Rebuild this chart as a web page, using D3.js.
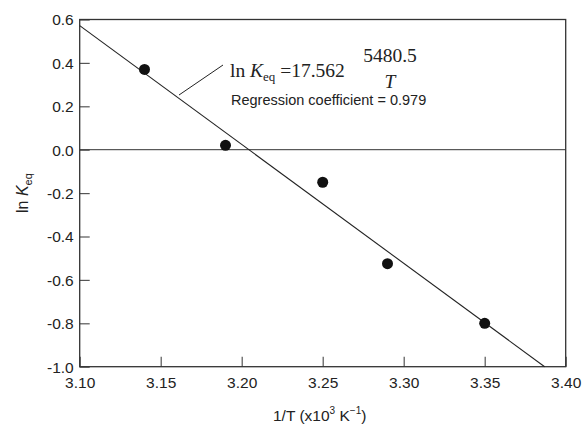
<!DOCTYPE html>
<html><head><meta charset="utf-8">
<script src="https://cdn.jsdelivr.net/npm/d3@7"></script>
<style>body{margin:0;background:#fff}svg{display:block}</style>
</head><body>
<svg id="c" width="583" height="433"></svg>
<script>
const xValues = [3.14, 3.19, 3.25, 3.29, 3.35];
const yValues = [0.37, 0.02, -0.15, -0.525, -0.80];
const fitX = [3.10, 3.387];
const fitY = [0.572, -1.0];
const xTicks = [3.10, 3.15, 3.20, 3.25, 3.30, 3.35, 3.40];
const yTicks = [-1.0, -0.8, -0.6, -0.4, -0.2, 0.0, 0.2, 0.4, 0.6];

const svg = d3.select("#c");
const L = 79.7, R = 565.7, T = 19.5, B = 366.7;
const x = d3.scaleLinear().domain([3.10, 3.40]).range([L, R]);
const y = d3.scaleLinear().domain([-1.0, 0.6]).range([B, T]);
const sans = "'Liberation Sans', Arial, sans-serif";
const serif = "'Liberation Serif', 'Times New Roman', serif";
const fmt1 = d => d3.format(".1f")(d).replace("\u2212", "-");

// axes with inward ticks
const yAxis = d3.axisLeft(y).tickValues(yTicks).tickSize(-10).tickPadding(16).tickFormat(fmt1);
const gy = svg.append("g").attr("transform", `translate(${L},0)`).call(yAxis);
const xAxis = d3.axisBottom(x).tickValues(xTicks).tickSize(-10).tickPadding(16).tickFormat(d3.format(".2f"));
const gx = svg.append("g").attr("transform", `translate(0,${B})`).call(xAxis);
[gx, gy].forEach(g => {
  g.select(".domain").remove();
  g.selectAll(".tick line").attr("stroke", "#555").attr("stroke-width", 1.2);
  g.selectAll(".tick text").attr("font-family", sans).attr("font-size", 15.5).attr("fill", "#222");
});
gy.selectAll(".tick text").attr("x", -6).attr("dy", "0.35em");
gx.selectAll(".tick text").attr("y", 10).attr("dy", "0.75em");

// frame
svg.append("rect").attr("x", L).attr("y", T).attr("width", R - L).attr("height", B - T)
  .attr("fill", "none").attr("stroke", "#333").attr("stroke-width", 1.3);

// zero line
svg.append("line").attr("x1", x(3.10)).attr("x2", x(3.40)).attr("y1", y(0)).attr("y2", y(0))
  .attr("stroke", "#333").attr("stroke-width", 1);

// fit line
const fitData = fitX.map((v, i) => [v, fitY[i]]);
svg.append("path").datum(fitData)
  .attr("d", d3.line().x(d => x(d[0])).y(d => y(d[1])))
  .attr("stroke", "#222").attr("stroke-width", 1.1).attr("fill", "none");

// points
svg.selectAll("circle.pt").data(xValues.map((v, i) => [v, yValues[i]])).enter()
  .append("circle").attr("class", "pt")
  .attr("cx", d => x(d[0])).attr("cy", d => y(d[1])).attr("r", 5.5).attr("fill", "#111");

// annotation leader
svg.append("line").attr("x1", 179).attr("y1", 95).attr("x2", 223).attr("y2", 65)
  .attr("stroke", "#222").attr("stroke-width", 1);

// equation
const eq = svg.append("text").attr("x", 230).attr("y", 77).attr("font-family", serif).attr("font-size", 19.5).attr("fill", "#222");
eq.append("tspan").text("ln ");
eq.append("tspan").attr("font-style", "italic").text("K");
eq.append("tspan").attr("font-size", 13).attr("dy", 4).text("eq");
eq.append("tspan").attr("dy", -4).text(" =17.562");
svg.append("text").attr("x", 390).attr("y", 62).attr("text-anchor", "middle")
  .attr("font-family", serif).attr("font-size", 19.5).attr("fill", "#222").text("5480.5");
svg.append("text").attr("x", 390).attr("y", 88).attr("text-anchor", "middle")
  .attr("font-family", serif).attr("font-size", 19.5).attr("font-style", "italic").attr("fill", "#222").text("T");
svg.append("text").attr("x", 231).attr("y", 105).attr("font-family", sans).attr("font-size", 14.5).attr("fill", "#222")
  .text("Regression coefficient = 0.979");

// x title
const xt = svg.append("text").attr("x", (L + R) / 2 - 3).attr("y", 421).attr("text-anchor", "middle")
  .attr("font-family", sans).attr("font-size", 15.5).attr("fill", "#222");
xt.append("tspan").text("1/T (x10");
xt.append("tspan").attr("font-size", 10).attr("dy", -7).text("3");
xt.append("tspan").attr("dy", 7).text(" K");
xt.append("tspan").attr("font-size", 10).attr("dy", -7).text("\u22121");
xt.append("tspan").attr("dy", 7).text(")");

// y title
const yt = svg.append("text").attr("transform", `translate(28,${(T + B) / 2}) rotate(-90)`).attr("text-anchor", "middle")
  .attr("font-family", sans).attr("font-size", 16).attr("fill", "#222");
yt.append("tspan").text("ln ");
yt.append("tspan").attr("font-style", "italic").text("K");
yt.append("tspan").attr("font-size", 11).attr("dy", 4).text("eq");
</script>
</body></html>
